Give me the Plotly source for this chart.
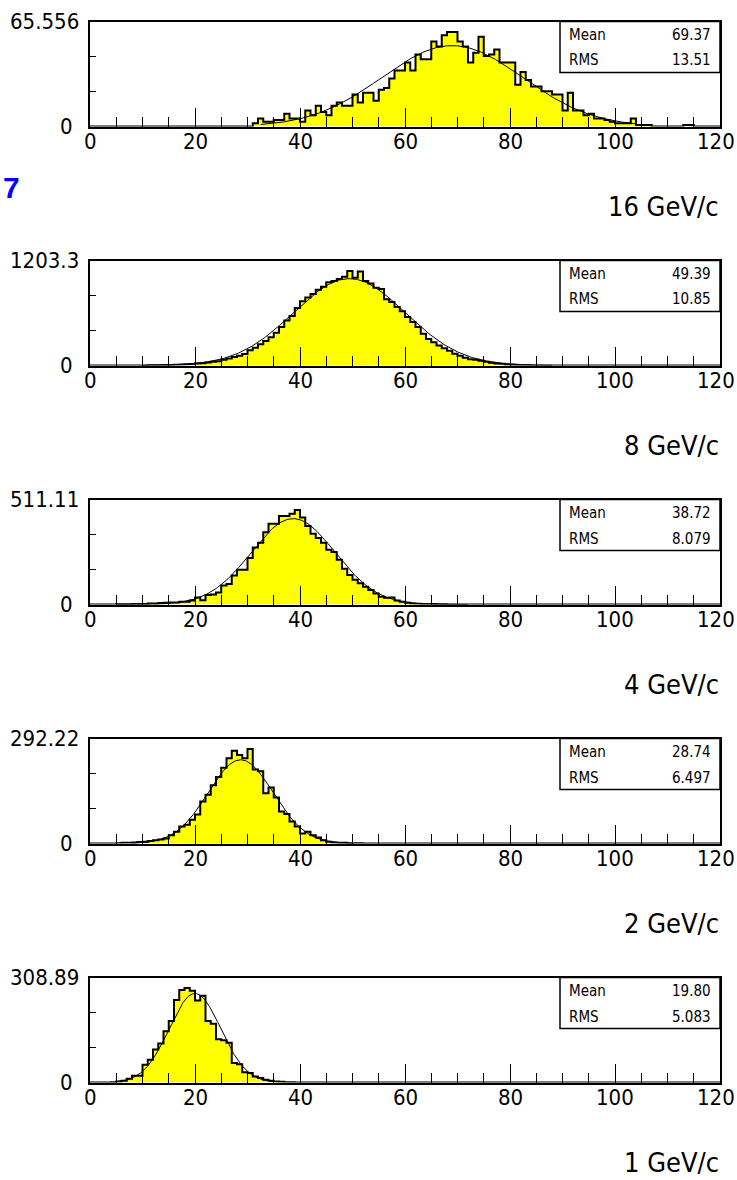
import numpy as np
import plotly.graph_objects as go

W, H = 737, 1180
NBINS = 120

# ---------------- data ----------------
momenta = ["16 GeV/c", "8 GeV/c", "4 GeV/c", "2 GeV/c", "1 GeV/c"]
ymax_labels = ["65.556", "1203.3", "511.11", "292.22", "308.89"]
mean_labels = ["69.37", "49.39", "38.72", "28.74", "19.80"]
rms_labels = ["13.51", "10.85", "8.079", "6.497", "5.083"]
x_tick_values = [0, 20, 40, 60, 80, 100, 120]
x_tick_labels = ["0", "20", "40", "60", "80", "100", "120"]

# bin contents (1-unit bins from 0 to 120); first non-empty bin + contents
p16_first = 31
p16_counts = [2, 5, 3, 3, 4, 4, 8, 5, 5, 3, 10, 7, 13, 9, 7, 13, 15, 13, 13, 20,
              15, 21, 21, 16, 23, 24, 30, 35, 35, 40, 35, 45, 42, 42, 53, 50, 57, 59, 59, 53,
              50, 40, 46, 56, 44, 45, 48, 40, 40, 40, 26, 34, 29, 25, 25, 22, 22, 20, 20, 10,
              21, 10, 10, 7, 8, 5, 5, 4, 3, 2, 2, 2, 5, 1, 1, 1, 0, 0, 0, 0,
              0, 0, 1, 1]

p8_first = 10
p8_counts = [1, 2, 3, 4, 5, 7, 9, 11, 14, 18, 23, 27, 35, 42, 50, 66, 81, 96, 112, 131,
             174, 204, 243, 281, 324, 374, 440, 517, 567, 660, 737, 779, 818, 868, 903, 953,
             968, 991, 1018, 1083, 1007, 1076, 968, 941, 891, 876, 760, 729, 671, 621, 555,
             498, 440, 363, 305, 266, 228, 197, 170, 135, 112, 89, 73, 66, 54, 42, 31, 23, 19,
             12, 8, 6, 4, 2, 1, 1]

p4_first = 5
p4_counts = [1, 1, 1, 2, 2, 3, 5, 5, 7, 8, 10, 10, 13, 13, 20, 34, 21, 46, 49, 59,
             92, 100, 141, 169, 169, 226, 278, 300, 352, 393, 393, 431, 431, 442, 460, 423,
             382, 344, 324, 300, 267, 256, 218, 174, 144, 120, 103, 87, 70, 54, 38, 33, 34,
             20, 13, 8, 5, 4, 3, 2, 2, 1, 1]

p2_first = 5
p2_counts = [1, 2, 2, 3, 4, 5, 7, 9, 11, 14, 23, 33, 47, 52, 66, 81, 117, 136, 162, 185,
             211, 237, 258, 246, 237, 263, 206, 201, 140, 156, 128, 89, 82, 61, 47, 28, 33,
             23, 17, 9, 5, 3, 2, 2, 1, 1, 1]

p1_first = 4
p1_counts = [1, 3, 5, 11, 20, 20, 52, 67, 97, 115, 151, 181, 243, 272, 278, 270, 241, 255,
             181, 173, 127, 124, 117, 57, 54, 30, 28, 18, 13, 8, 5, 3, 2, 1, 1]

# Gaussian fit parameters
fit_amp = [50.5, 995, 418, 233, 262]
fit_mean = [69.0, 49.4, 38.7, 28.7, 20.0]
fit_sigma = [13.4, 10.7, 8.0, 6.2, 4.9]
fit_lo = [32.5, 10, 5, 8, 5]
fit_hi = [104, 88, 72, 50, 35]

panel_first = [p16_first, p8_first, p4_first, p2_first, p1_first]
panel_counts = [p16_counts, p8_counts, p4_counts, p2_counts, p1_counts]

# ---------------- styling / layout ----------------
FONT = "DejaVu Sans Condensed, Liberation Sans Narrow, sans-serif"
X0_PX, X1_PX = 90, 720
TOP0, PANEL_H, STEP = 21.5, 105, 239


def px_x(p):
    return p / W


def px_y(p):
    return 1 - p / H


fig = go.Figure()
annotations = []
shapes = []
layout = {}

edges = np.arange(NBINS + 1)
for i in range(5):
    counts = np.zeros(NBINS)
    c = panel_counts[i]
    counts[panel_first[i]:panel_first[i] + len(c)] = c
    ymax = float(ymax_labels[i])
    top = TOP0 + i * STEP
    bot = top + PANEL_H
    xa = "x" if i == 0 else f"x{i+1}"
    ya = "y" if i == 0 else f"y{i+1}"

    fig.add_trace(go.Scatter(
        x=edges, y=np.append(counts, counts[-1]), mode="lines",
        line=dict(shape="hv", color="black", width=2),
        fill="tozeroy", fillcolor="#ffff00",
        xaxis=xa, yaxis=ya, showlegend=False, hoverinfo="skip"))

    xf = np.linspace(fit_lo[i], fit_hi[i], 300)
    yf = fit_amp[i] * np.exp(-0.5 * ((xf - fit_mean[i]) / fit_sigma[i]) ** 2)
    fig.add_trace(go.Scatter(
        x=xf, y=yf, mode="lines", line=dict(color="black", width=1),
        xaxis=xa, yaxis=ya, showlegend=False, hoverinfo="skip"))

    key = "" if i == 0 else str(i + 1)
    layout[f"xaxis{key}"] = dict(
        domain=[px_x(X0_PX), px_x(X1_PX)], anchor=ya, range=[0, 120],
        tickmode="linear", tick0=0, dtick=20,
        ticks="inside", ticklen=19, tickwidth=1, tickcolor="black",
        showticklabels=False,
        showline=True, linewidth=2, linecolor="black", mirror=True,
        showgrid=False, zeroline=False,
        minor=dict(ticks="inside", ticklen=10, dtick=5, tick0=0,
                   tickwidth=1, tickcolor="black", showgrid=False))
    layout[f"yaxis{key}"] = dict(
        domain=[px_y(bot), px_y(top)], anchor=xa, range=[0, ymax],
        tickmode="array", tickvals=[ymax / 3, 2 * ymax / 3],
        ticks="inside", ticklen=6, tickwidth=1, tickcolor="black",
        showticklabels=False,
        showline=True, linewidth=2, linecolor="black", mirror=True,
        showgrid=False, zeroline=False)

    # x tick labels
    for v, t in zip(x_tick_values, x_tick_labels):
        annotations.append(dict(text=t, xref=xa, yref="paper", x=v, y=px_y(bot + 15),
                                xanchor="center", yanchor="middle", showarrow=False,
                                xshift=-4 if v == x_tick_values[-1] else 0,
                                font=dict(family=FONT, size=22, color="black")))
    # y labels
    annotations.append(dict(text=ymax_labels[i], xref="paper", yref="paper",
                            x=px_x(81), y=px_y(top), xanchor="right", yanchor="middle",
                            showarrow=False, font=dict(family=FONT, size=22, color="black")))
    annotations.append(dict(text="0", xref="paper", yref="paper",
                            x=px_x(75), y=px_y(bot), xanchor="right", yanchor="middle",
                            showarrow=False, font=dict(family=FONT, size=22, color="black")))
    # momentum title
    annotations.append(dict(text=momenta[i], xref="paper", yref="paper",
                            x=px_x(721), y=px_y(bot + 80), xanchor="right", yanchor="middle",
                            showarrow=False, font=dict(family=FONT, size=27, color="black")))
    # stats box
    shapes.append(dict(type="rect", xref="paper", yref="paper",
                       x0=px_x(560), x1=px_x(720), y0=px_y(top + 51), y1=px_y(top),
                       line=dict(color="black", width=1.5), fillcolor="white", layer="above"))
    for row, (lab, val) in enumerate([("Mean", mean_labels[i]), ("RMS", rms_labels[i])]):
        yy = px_y(top + 13 + 26 * row)
        annotations.append(dict(text=lab, xref="paper", yref="paper", x=px_x(567), y=yy,
                                xanchor="left", yanchor="middle", showarrow=False,
                                font=dict(family=FONT, size=15, color="black")))
        annotations.append(dict(text=val, xref="paper", yref="paper", x=px_x(713), y=yy,
                                xanchor="right", yanchor="middle", showarrow=False,
                                font=dict(family=FONT, size=15, color="black")))

annotations.append(dict(text="<b>7</b>", xref="paper", yref="paper", x=px_x(12), y=px_y(187),
                        xanchor="center", yanchor="middle", showarrow=False,
                        font=dict(family="Liberation Sans, Arial, sans-serif", size=30,
                                  color="#0000ff")))

fig.update_layout(width=W, height=H, margin=dict(l=0, r=0, t=0, b=0),
                  paper_bgcolor="white", plot_bgcolor="white",
                  annotations=annotations, shapes=shapes, **layout)

fig.write_html("out.html", config={"displayModeBar": False},
               post_script="document.body.style.margin='0px';"
                           "document.documentElement.style.overflow='hidden';")
